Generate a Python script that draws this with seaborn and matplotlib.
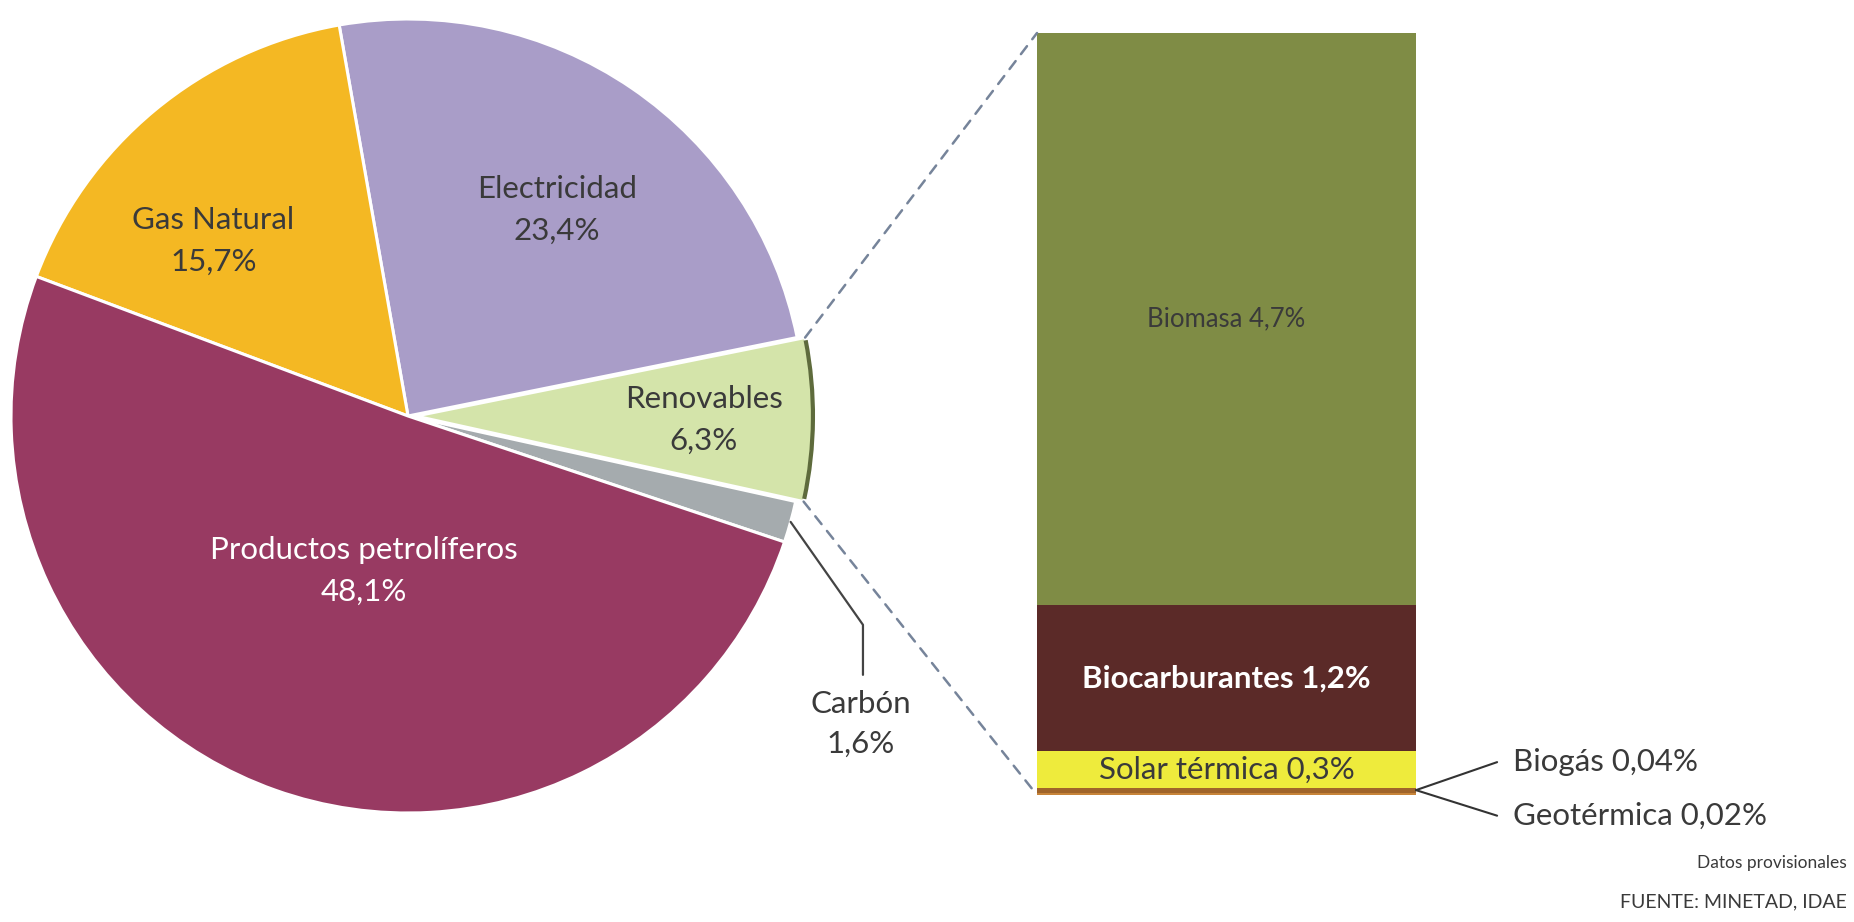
import numpy as np
import pandas as pd
import matplotlib
matplotlib.use("Agg")
import matplotlib.pyplot as plt
import seaborn as sns
from matplotlib.patches import ConnectionPatch, Arc

# Final energy consumption shares (%)
pie_labels = ["Carbón", "Renovables", "Electricidad", "Gas Natural", "Productos petrolíferos"]
pie_values = [1.6, 6.3, 23.4, 15.7, 48.1]
pie_texts = ["1,6%", "6,3%", "23,4%", "15,7%", "48,1%"]
pie_colors = ["#A5ABAE", "#D4E4AA", "#A99DC8", "#F4B823", "#983A62"]

# Breakdown of renewables (%), top to bottom
ren_labels = ["Biomasa", "Biocarburantes", "Solar térmica", "Biogás", "Geotérmica"]
ren_values = [4.7, 1.2, 0.3, 0.04, 0.02]
ren_texts = ["4,7%", "1,2%", "0,3%", "0,04%", "0,02%"]
ren_colors = ["#7F8C45", "#5B2A28", "#EEEB3C", "#A0642A", "#C7843A"]

sns.set_theme(style="white")
plt.rcParams["font.family"] = ["Lato", "DejaVu Sans"]

W, H = 1854, 922
fig = plt.figure(figsize=(W / 100, H / 100), dpi=100)
fig.patch.set_facecolor("white")

# ---- Pie -----------------------------------------------------------------
cx, cy, R = 408, 416, 397
ax = fig.add_axes([(cx - R) / W, (H - cy - R) / H, 2 * R / W, 2 * R / H])
explode = [0, 0.02, 0, 0, 0]
wedges, _ = ax.pie(pie_values, colors=pie_colors, startangle=-18.5, counterclock=True,
                   explode=explode, radius=1,
                   wedgeprops=dict(edgecolor="white", linewidth=2.2))
for w in wedges:
    w.set_clip_on(False)
ax.set_xlim(-1, 1)
ax.set_ylim(-1, 1)
ax.set_aspect("equal")
ax.axis("off")

# darker rim on the renewables wedge
w_ren = wedges[1]
ax.add_patch(Arc(w_ren.center, 2 * w_ren.r, 2 * w_ren.r, theta1=w_ren.theta1 + 0.4,
                 theta2=w_ren.theta2 - 0.4, color="#5E6B3C", lw=3, zorder=5,
                 clip_on=False))

txt_dark = "#3A3A3A"
fs = 22.5
label_pos = {
    "Electricidad": (0.375, 0.52),
    "Gas Natural": (-0.49, 0.44),
    "Renovables": (0.745, -0.01),
    "Productos petrolíferos": (-0.11, -0.39),
}
for name, txt, col in zip(pie_labels, pie_texts, pie_colors):
    if name not in label_pos:
        continue
    x, y = label_pos[name]
    color = "white" if name.startswith("Productos") else txt_dark
    ax.text(x, y, f"{name}\n{txt}", ha="center", va="center", fontsize=fs,
            color=color, linespacing=1.6)

# Carbón leader line
w_c = wedges[0]
mid = np.deg2rad((w_c.theta1 + w_c.theta2) / 2)
p0 = (np.cos(mid) * 1.0, np.sin(mid) * 1.0)
elbow = (1.146, -0.526)
end = (1.146, -0.652)
ax.plot([p0[0], elbow[0], end[0]], [p0[1], elbow[1], end[1]], color="#444444",
        lw=1.6, clip_on=False)
ax.text(1.14, -0.775, f"{pie_labels[0]}\n{pie_texts[0]}", ha="center", va="center",
        fontsize=fs, color=txt_dark, linespacing=1.5)

# ---- Stacked bar of renewables --------------------------------------------
bx0, bx1, by_top, by_bot = 1037, 1416, 33, 795
bax = fig.add_axes([bx0 / W, (H - by_bot) / H, (bx1 - bx0) / W, (by_bot - by_top) / H])
cum = np.cumsum(ren_values[::-1])[::-1]  # top of each segment
df = pd.DataFrame({"grupo": ["Renovables"] * len(ren_labels), "fuente": ren_labels,
                   "tope": cum})
for i in range(len(ren_labels)):
    sns.barplot(data=df.iloc[[i]], x="grupo", y="tope", color=ren_colors[i],
                width=1.0, ax=bax, saturation=1, linewidth=0)
total = float(cum[0])
bax.set_xlim(-0.5, 0.5)
bax.set_ylim(0, total)
bax.axis("off")

bottoms = np.append(cum[1:], 0)
centers = (cum + bottoms) / 2
bax.text(0, centers[0], f"{ren_labels[0]} {ren_texts[0]}", ha="center", va="center",
         fontsize=18.5, color=txt_dark)
bax.text(0, centers[1], f"{ren_labels[1]} {ren_texts[1]}", ha="center", va="center",
         fontsize=fs, color="white", fontweight="bold")
bax.text(0, centers[2], f"{ren_labels[2]} {ren_texts[2]}", ha="center", va="center",
         fontsize=fs, color=txt_dark)

# small shares outside the bar
y_small = (cum[3] + cum[4]) / 2
for name, txt, ty in [(ren_labels[3], ren_texts[3], 0.27), (ren_labels[4], ren_texts[4], -0.17)]:
    bax.plot([0.5, 0.714], [y_small, ty], color="#333333", lw=1.5, clip_on=False)
    bax.text(0.756, ty, f"{name} {txt}", ha="left", va="center", fontsize=fs,
             color=txt_dark, clip_on=False)

# ---- Dashed connectors from the renewables wedge to the bar ---------------
th1, th2 = np.deg2rad(w_ren.theta1), np.deg2rad(w_ren.theta2)
c0 = w_ren.center
for th, yb in [(th2, total), (th1, 0)]:
    pt = (c0[0] + w_ren.r * np.cos(th), c0[1] + w_ren.r * np.sin(th))
    con = ConnectionPatch(xyA=pt, coordsA=ax.transData, xyB=(-0.5, yb),
                          coordsB=bax.transData, color="#76849A", lw=1.8,
                          linestyle=(0, (4, 3.5)))
    fig.add_artist(con)

# ---- Footnotes --------------------------------------------------------------
fig.text(1847 / W, 1 - 863 / H, "Datos provisionales", ha="right", va="center",
         fontsize=12.5, color=txt_dark)
fig.text(1847 / W, 1 - 902 / H, "FUENTE: MINETAD, IDAE", ha="right", va="center",
         fontsize=14, color=txt_dark)

fig.savefig("out.png", dpi=100, facecolor="white")
